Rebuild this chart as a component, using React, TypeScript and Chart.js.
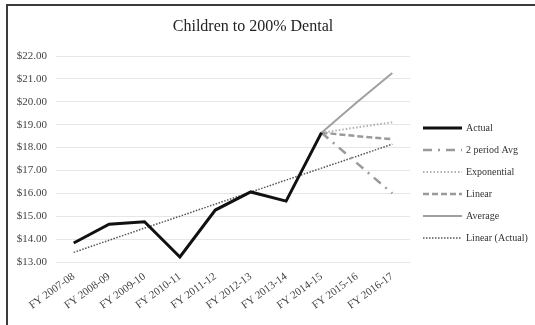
import React, { useEffect, useRef } from "react";
import { Chart, registerables } from "chart.js";

Chart.register(...registerables);

const TITLE = "Children to 200% Dental";

const CATEGORIES = [
  "FY 2007-08",
  "FY 2008-09",
  "FY 2009-10",
  "FY 2010-11",
  "FY 2011-12",
  "FY 2012-13",
  "FY 2013-14",
  "FY 2014-15",
  "FY 2015-16",
  "FY 2016-17",
];

const ACTUAL = [13.83, 14.65, 14.76, 13.22, 15.27, 16.06, 15.66, 18.65, null, null];
const TWO_PERIOD_AVG = [null, null, null, null, null, null, null, 18.65, 17.32, 16.0];
const EXPONENTIAL = [null, null, null, null, null, null, null, 18.65, 18.88, 19.1];
const LINEAR = [null, null, null, null, null, null, null, 18.65, 18.5, 18.37];
const AVERAGE = [null, null, null, null, null, null, null, 18.65, 19.98, 21.26];
const LINEAR_ACTUAL = [13.42, 13.95, 14.48, 15.0, 15.53, 16.05, 16.58, 17.1, 17.62, 18.15];

const SERIES_LABELS = ["Actual", "2 period Avg", "Exponential", "Linear", "Average", "Linear (Actual)"];

const Y_MIN = 13;
const Y_MAX = 22;
const Y_STEP = 1;

const FONT = "'Liberation Serif', 'Times New Roman', serif";

const titlePlugin = {
  id: "customTitle",
  afterDraw(chart: any) {
    const ctx = chart.ctx;
    ctx.save();
    ctx.fillStyle = "#222";
    ctx.font = `16px ${FONT}`;
    ctx.textAlign = "center";
    ctx.textBaseline = "middle";
    ctx.fillText(TITLE, 253, 27);
    ctx.restore();
  },
};

const legendPlugin = {
  id: "sideLegend",
  afterDraw(chart: any) {
    const ctx = chart.ctx;
    chart.data.datasets.forEach((ds: any, i: number) => {
      const y = 128 + i * 22;
      ctx.save();
      ctx.strokeStyle = ds.borderColor;
      ctx.lineWidth = ds.borderWidth;
      ctx.setLineDash(ds.borderDash || []);
      ctx.beginPath();
      ctx.moveTo(423, y);
      ctx.lineTo(462, y);
      ctx.stroke();
      ctx.setLineDash([]);
      ctx.fillStyle = "#333";
      ctx.font = `10px ${FONT}`;
      ctx.textBaseline = "middle";
      ctx.textAlign = "left";
      ctx.fillText(ds.label, 466, y);
      ctx.restore();
    });
  },
};

export default function App() {
  const canvasRef = useRef<HTMLCanvasElement | null>(null);

  useEffect(() => {
    if (!canvasRef.current) return;
    const base = { pointRadius: 0, tension: 0, fill: false, spanGaps: false };
    const chart = new Chart(canvasRef.current, {
      type: "line",
      data: {
        labels: CATEGORIES,
        datasets: [
          { ...base, label: SERIES_LABELS[0], data: ACTUAL, borderColor: "#111111", borderWidth: 3, borderDash: [] },
          { ...base, label: SERIES_LABELS[1], data: TWO_PERIOD_AVG, borderColor: "#9a9a9a", borderWidth: 2.5, borderDash: [9, 6, 2, 6] },
          { ...base, label: SERIES_LABELS[2], data: EXPONENTIAL, borderColor: "#b0b0b0", borderWidth: 2, borderDash: [1.5, 2] },
          { ...base, label: SERIES_LABELS[3], data: LINEAR, borderColor: "#9a9a9a", borderWidth: 2.5, borderDash: [6, 3] },
          { ...base, label: SERIES_LABELS[4], data: AVERAGE, borderColor: "#a0a0a0", borderWidth: 2, borderDash: [] },
          { ...base, label: SERIES_LABELS[5], data: LINEAR_ACTUAL, borderColor: "#555555", borderWidth: 1.5, borderDash: [1.5, 1.5] },
        ],
      },
      options: {
        animation: false,
        responsive: false,
        maintainAspectRatio: false,
        layout: { padding: { left: 8, top: 56, right: 125, bottom: 0 } },
        plugins: {
          legend: { display: false },
          title: { display: false },
          tooltip: { enabled: false },
        },
        scales: {
          x: {
            type: "category",
            offset: true,
            grid: { display: false, drawTicks: false },
            border: { display: false },
            ticks: {
              autoSkip: false,
              minRotation: 36,
              maxRotation: 36,
              padding: 8,
              color: "#444",
              font: { family: FONT, size: 11 },
            },
            afterFit: (s: any) => {
              s.height = 63;
            },
          },
          y: {
            min: Y_MIN,
            max: Y_MAX,
            grid: { color: "#e6e6e6", lineWidth: 1, drawTicks: false },
            border: { display: false },
            ticks: {
              stepSize: Y_STEP,
              padding: 9,
              color: "#444",
              font: { family: FONT, size: 11 },
              callback: (v: any) => "$" + Number(v).toFixed(2),
            },
            afterFit: (s: any) => {
              s.width = 48;
            },
          },
        },
      },
      plugins: [titlePlugin, legendPlugin],
    });
    return () => chart.destroy();
  }, []);

  return (
    <div style={{ position: "fixed", left: 0, top: 0, width: 535, height: 325, background: "#fff", overflow: "hidden" }}>
      <canvas ref={canvasRef} width={535} height={325} style={{ position: "absolute", left: 0, top: 0, width: 535, height: 325 }} />
      <div
        style={{
          position: "absolute",
          left: 6,
          top: 4,
          width: 600,
          height: 400,
          borderTop: "2px solid #3c3c3c",
          borderLeft: "2px solid #3c3c3c",
          pointerEvents: "none",
        }}
      />
    </div>
  );
}
